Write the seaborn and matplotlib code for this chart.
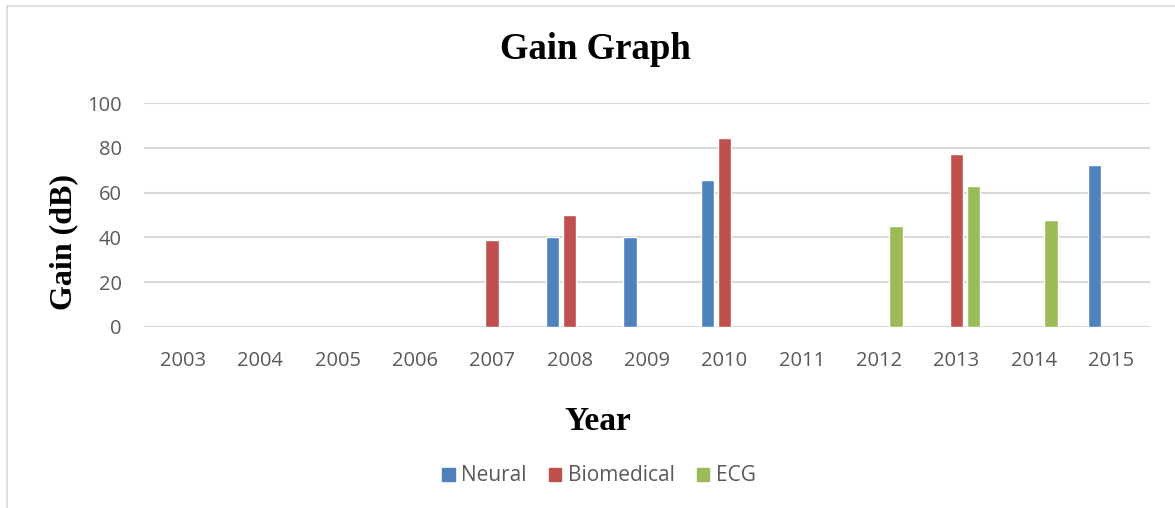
import pandas as pd
import numpy as np
import matplotlib
matplotlib.use("Agg")
import matplotlib.pyplot as plt
import seaborn as sns
from matplotlib.patches import Rectangle
from matplotlib.lines import Line2D

# values
years = ["2003", "2004", "2005", "2006", "2007", "2008", "2009",
         "2010", "2011", "2012", "2013", "2014", "2015"]
neural = [np.nan, np.nan, np.nan, np.nan, np.nan, 40, 40,
          65.5, np.nan, np.nan, np.nan, np.nan, 72.3]
biomedical = [np.nan, np.nan, np.nan, np.nan, 38.8, 50, np.nan,
              84.2, np.nan, np.nan, 77.1, np.nan, np.nan]
ecg = [np.nan, np.nan, np.nan, np.nan, np.nan, np.nan, np.nan,
       np.nan, np.nan, 45, 63, 47.8, np.nan]
series = ["Neural", "Biomedical", "ECG"]
colors = ["#4F81BD", "#C0504D", "#9BBB59"]

df = pd.DataFrame({"Year": years, "Neural": neural,
                   "Biomedical": biomedical, "ECG": ecg})
long_df = df.melt(id_vars="Year", var_name="Series", value_name="Gain").dropna()

sns.set_style("white")
plt.rcParams["font.family"] = ["Open Sans", "DejaVu Sans"]

fig = plt.figure(figsize=(11.75, 5.08), dpi=100)
ax = fig.add_axes([0.1226, 0.3563, 0.8562, 0.4409])

sns.barplot(data=long_df, x="Year", y="Gain", hue="Series",
            order=years, hue_order=series, palette=colors,
            width=0.66, gap=0.2, saturation=1, ax=ax, legend=False)

ax.set_ylim(0, 100)
ax.set_yticks(range(0, 101, 20))
ax.set_xlim(-0.5, len(years) - 0.5)
ax.yaxis.grid(True, color="#D9D9D9", linewidth=1.5)
ax.set_axisbelow(True)
for s in ax.spines.values():
    s.set_visible(False)
ax.tick_params(axis="both", length=0, labelsize=14.5, colors="#595959")
ax.tick_params(axis="x", pad=17)
ax.tick_params(axis="y", pad=16)
ax.set_xlabel("")
ax.set_ylabel("")

serif = "Liberation Serif"
fig.text(0.5064, 0.9016, "Gain Graph", ha="center", va="center", color="black",
         fontsize=26.5, fontweight="bold", family=serif)
fig.text(0.5089, 0.171, "Year", ha="center", va="center", color="black",
         fontsize=24, fontweight="bold", family=serif)
fig.text(0.0545, 0.5236, "Gain (dB)", ha="center", va="center", color="black",
         rotation=90, fontsize=23, fontweight="bold", family=serif)

handles = [Rectangle((0, 0), 1, 1, color=c) for c in colors]
fig.legend(handles, series, loc="center", bbox_to_anchor=(0.5098, 0.063),
           ncol=3, frameon=False, fontsize=15, labelcolor="#595959",
           handlelength=0.58, handleheight=0.58, handletextpad=0.3,
           columnspacing=1.1)

# light chart-area border (left and top edges visible)
fig.add_artist(Line2D([7 / 1175, 7 / 1175], [0, 1 - 6 / 508],
                      transform=fig.transFigure, color="#D9D9D9", linewidth=1.2))
fig.add_artist(Line2D([7 / 1175, 1], [1 - 6 / 508, 1 - 6 / 508],
                      transform=fig.transFigure, color="#D9D9D9", linewidth=1.2))

fig.savefig("out.png", dpi=100)
